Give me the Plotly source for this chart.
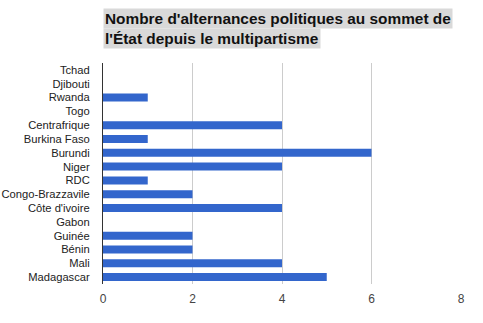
import plotly.graph_objects as go

countries = ["Tchad", "Djibouti", "Rwanda", "Togo", "Centrafrique", "Burkina Faso",
             "Burundi", "Niger", "RDC", "Congo-Brazzavile", "Côte d'ivoire", "Gabon",
             "Guinée", "Bénin", "Mali", "Madagascar"]
alternances = [0, 0, 1, 0, 4, 1, 6, 4, 1, 2, 4, 0, 2, 2, 4, 5]
x_ticks = [0, 2, 4, 6, 8]
title_lines = ["Nombre d'alternances politiques au sommet de",
               "l'État depuis le multipartisme"]

W, H = 483, 323
ml, mr, mt, mb = 103, 22, 63, 39
ph = H - mt - mb

fig = go.Figure(go.Bar(
    x=alternances, y=countries, orientation="h",
    marker=dict(color="#3366cc", line=dict(width=0)),
))

fig.update_layout(
    width=W, height=H,
    margin=dict(l=ml, r=mr, t=mt, b=mb, pad=0, autoexpand=False),
    paper_bgcolor="white", plot_bgcolor="white",
    bargap=0.42,
    showlegend=False,
    font=dict(family="Liberation Sans, Arial, sans-serif", color="#222222", size=12),
    xaxis=dict(range=[0, 8], tickmode="array", tickvals=x_ticks, showgrid=True,
               gridcolor="#cccccc", gridwidth=1, zeroline=False, showline=False,
               ticks="", ticklabelstandoff=6, automargin=False,
               tickfont=dict(size=12, color="#444444"), fixedrange=True),
    yaxis=dict(autorange="reversed", tickmode="array", tickvals=countries,
               ticktext=countries, showgrid=False, zeroline=False,
               showline=True, linecolor="#333333", linewidth=1, ticks="",
               ticklabelstandoff=10, automargin=False,
               tickfont=dict(size=11.2, color="#222222"),
               fixedrange=True),
)

for i, line in enumerate(title_lines):
    center_px = 18.5 + i * 20.5
    fig.add_annotation(
        text="<b>%s</b>" % line, xref="paper", yref="paper",
        x=0, y=1 + (mt - center_px) / ph, xanchor="left", yanchor="middle",
        showarrow=False, bgcolor="#d9d9d9", borderpad=1,
        font=dict(size=15.4, color="#111111", family="Liberation Sans, Arial, sans-serif"),
    )

fig.write_html("out.html")
